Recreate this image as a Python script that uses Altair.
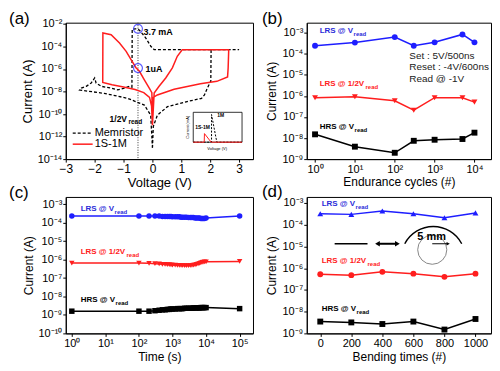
import altair as alt
import pandas as pd

FONT = "Liberation Sans"
BLUE = "#1e1eff"
RED = "#ff1e1e"
BLACK = "#000000"

# ---------------- (a) I-V sweeps ----------------
mem_v = [0.0, 0.03, 0.17, 0.52, 1.2, 1.7, 1.8, 1.9, 2.02, 2.03,
         3.0, 0.06, -0.05, -0.23, -0.4, -0.49, -0.6, -0.7, -0.71, -0.8,
         -0.97, -1.2, -1.43, -1.77, -1.95, -2.0, -2.12, -2.29, -2.46, -2.52,
         -1.67, -0.86, -0.28, -0.06, 0.0]
mem_i = [1e-13, 8e-12, 8e-11, 4.5e-10, 1.3e-9, 2.5e-9, 5e-9, 2e-8, 8.5e-8, 5.2e-5,
         5.2e-5, 5.2e-5, 1e-4, 5.6e-4, 2e-3, 3.5e-3, 3.7e-3, 3.4e-3, 2.5e-8, 2.9e-8,
         2e-8, 1.4e-8, 2e-8, 2.9e-8, 5.7e-8, 1.6e-7, 5.7e-8, 2.9e-8, 2e-8, 1.35e-8,
         6.9e-9, 2.5e-9, 6.3e-10, 8e-11, 1e-13]
s1m_v = [0.0, 0.03, 0.17, 0.75, 1.66, 2.23, 2.6, 2.62, 2.64, 1.03,
         0.86, 0.69, 0.46, 0.23, 0.06, 0.0, -0.02, -0.11, -0.28, -0.45,
         -0.57, -0.74, -0.91, -1.14, -1.43, -1.715, -1.72, -1.4, -1.0, -0.6,
         -0.3, -0.1, -0.03, 0.0]
s1m_i = [1e-11, 3e-9, 5e-9, 1.6e-8, 5e-8, 8e-8, 2e-7, 1.2e-6, 5.2e-5, 5.2e-5,
         1.35e-5, 1.26e-6, 1.6e-7, 2.9e-8, 7.4e-9, 1e-11, 8e-9, 2e-8, 1.1e-7, 6.3e-7,
         1.3e-6, 6.8e-6, 3.7e-5, 2e-4, 1.1e-3, 1.6e-3, 6.5e-8, 4e-8, 2.5e-8, 1.5e-8,
         8e-9, 3e-9, 5e-10, 1e-11]
marker_v = [-0.5, -0.5]
marker_i = [3.7e-3, 1.2e-6]
half_read_v = [-0.5]

# inset (linear, mA)
inset_mem_v = [-3.0, -0.75, -0.75, -0.1, 3.0]
inset_mem_i = [0.0, 0.0, 3.7, 0.0, 0.0]
inset_s1m_v = [-3.0, -1.65, -1.62, -0.8, 3.0]
inset_s1m_i = [0.0, 0.0, 1.15, 0.0, 0.0]

# ---------------- (b) endurance ----------------
cycles = [1, 10, 100, 300, 1000, 5000, 10000]
lrs_b = [2.4e-4, 3.4e-4, 6.2e-4, 2.4e-4, 3.5e-4, 8.3e-4, 3.5e-4]
half_b = [8.2e-7, 9.1e-7, 5.9e-7, 2.1e-7, 8.2e-7, 8.2e-7, 5.1e-7]
hrs_b = [1.5e-8, 3.9e-9, 2.0e-9, 7.4e-9, 8.3e-9, 9.0e-9, 1.8e-8]

# ---------------- (c) retention ----------------
time_c = [1, 100, 200, 300, 400, 500, 600, 700, 800, 900, 1000, 1200, 1400, 1600,
          1800, 2000, 2300, 2600, 3000, 3400, 3800, 4200, 4700, 5200, 5800, 6400,
          7000, 7600, 8200, 9000, 10000, 100000]
lrs_c = [2.3e-4, 2.3e-4, 2.3e-4, 2.3e-4, 2.3e-4, 2.2e-4, 2.2e-4, 2.2e-4, 2.2e-4, 2.2e-4,
         2.1e-4, 2.1e-4, 2.1e-4, 2.1e-4, 2.0e-4, 2.0e-4, 2.0e-4, 2.0e-4, 1.9e-4, 1.9e-4,
         1.9e-4, 1.9e-4, 1.8e-4, 1.8e-4, 1.8e-4, 1.8e-4, 1.7e-4, 1.7e-4, 1.7e-4, 1.7e-4,
         1.8e-4, 2.3e-4]
half_c = [6.5e-7, 6.5e-7, 6.3e-7, 6.0e-7, 5.8e-7, 5.6e-7, 5.5e-7, 5.4e-7, 5.3e-7, 5.2e-7,
          5.1e-7, 5.0e-7, 4.9e-7, 4.9e-7, 4.8e-7, 4.8e-7, 4.7e-7, 4.7e-7, 4.7e-7, 4.8e-7,
          4.9e-7, 5.0e-7, 5.2e-7, 5.5e-7, 5.8e-7, 6.2e-7, 6.6e-7, 7.0e-7, 7.3e-7, 7.5e-7,
          7.6e-7, 8.0e-7]
hrs_c = [1.6e-9, 1.6e-9, 1.6e-9, 1.7e-9, 1.8e-9, 1.9e-9, 1.9e-9, 2.0e-9, 2.0e-9, 2.1e-9,
         2.1e-9, 2.1e-9, 2.2e-9, 2.2e-9, 2.2e-9, 2.2e-9, 2.3e-9, 2.3e-9, 2.3e-9, 2.3e-9,
         2.3e-9, 2.4e-9, 2.4e-9, 2.4e-9, 2.4e-9, 2.4e-9, 2.5e-9, 2.5e-9, 2.5e-9, 2.5e-9,
         2.5e-9, 2.2e-9]

# ---------------- (d) bending ----------------
bend = [0, 200, 400, 600, 800, 1000]
lrs_d = [3.2e-4, 3.0e-4, 4.3e-4, 3.2e-4, 2.1e-4, 3.5e-4]
half_d = [5.3e-7, 4.8e-7, 6.8e-7, 5.6e-7, 4.0e-7, 5.6e-7]
hrs_d = [3.5e-9, 3.2e-9, 2.7e-9, 3.5e-9, 1.5e-9, 4.6e-9]

SUP = str.maketrans("-0123456789", "⁻⁰¹²³⁴⁵⁶⁷⁸⁹")


def pow_expr(exps):
    expr = "''"
    for e in exps:
        expr = (f"abs(log(datum.value)/LN10-({e}))<0.01 ? "
                f"'10{str(e).translate(SUP)}' : ({expr})")
    return expr


def log_axis(title, exps, lsize=11, tsize=12):
    return alt.Axis(title=title, values=[10.0 ** e for e in exps],
                    labelExpr=pow_expr(exps), labelFontSize=lsize,
                    titleFontSize=tsize, labelFlush=False, labelOverlap=False)


def label(text, x, y, size=9, color=BLACK, weight="bold", align="left",
          baseline="middle", angle=0):
    return alt.Chart(pd.DataFrame({"t": [text]})).mark_text(
        align=align, baseline=baseline, fontSize=size, fontWeight=weight,
        color=color, font=FONT, angle=angle
    ).encode(text="t:N", x=alt.value(x), y=alt.value(y))


def sub_label(main, sub, x, y, color, sub_dx, size=8):
    return [label(main, x, y, size=size, color=color),
            label(sub, x + sub_dx, y + 3, size=size - 2, color=color)]


def series(xs, ys, color, shape, xenc, yenc, size=35):
    df = pd.DataFrame({"x": xs, "y": ys})
    base = alt.Chart(df).encode(x=xenc, y=yenc)
    return [base.mark_line(color=color, strokeWidth=1.5),
            base.mark_point(shape=shape, filled=True, color=color, size=size,
                            opacity=1)]


# ================= panel (a) =================
xa = alt.X("V:Q", scale=alt.Scale(domain=[-3, 3.48], nice=False, zero=False),
           axis=alt.Axis(title="Voltage (V)", values=[-3, -2, -1, 0, 1, 2, 3],
                         format="d", labelFontSize=12, titleFontSize=13,
                         labelFlush=False, labelOverlap=False))
ya = alt.Y("I:Q", scale=alt.Scale(type="log", domain=[1e-14, 1.3e-2], nice=False),
           axis=log_axis("Current (A)", [-14, -12, -10, -8, -6, -4, -2],
                         lsize=11, tsize=13))

df_mem = pd.DataFrame({"V": mem_v, "I": mem_i, "k": list(range(len(mem_v)))})
df_s1m = pd.DataFrame({"V": s1m_v, "I": s1m_i, "k": list(range(len(s1m_v)))})

vline = alt.Chart(pd.DataFrame({"V": half_read_v})).mark_rule(
    color="#333333", strokeDash=[1, 1.5], strokeWidth=1).encode(x=xa)
mem_line = alt.Chart(df_mem).mark_line(
    color=BLACK, strokeDash=[3, 2], strokeWidth=1.3
).encode(x=xa, y=ya, order="k:Q")
s1m_line = alt.Chart(df_s1m).mark_line(color=RED, strokeWidth=1.5).encode(
    x=xa, y=ya, order="k:Q")
circles = alt.Chart(pd.DataFrame({"V": marker_v, "I": marker_i})).mark_point(
    shape="circle", filled=False, color=BLUE, size=80, strokeWidth=1.2
).encode(x=xa, y=ya)

dummy = pd.DataFrame({"a": [0]})
legend_a = [
    alt.Chart(dummy).mark_rule(color=BLACK, strokeDash=[3, 2], strokeWidth=1.3)
    .encode(x=alt.value(7), x2=alt.value(27), y=alt.value(111)),
    label("Memristor", 29, 111, size=11, weight="normal"),
    alt.Chart(dummy).mark_rule(color=RED, strokeWidth=1.5)
    .encode(x=alt.value(7), x2=alt.value(27), y=alt.value(122)),
    label("1S-1M", 29, 122, size=11, weight="normal"),
]

main_a = alt.layer(
    vline, mem_line, s1m_line, circles,
    label("3.7 mA", 78, 9), label("1uA", 80, 47),
    label("1/2V", 44, 97, size=8.5), label("read", 63, 100, size=6.5),
    *legend_a,
    label("(a)", -57, -12, size=17, weight="normal", baseline="top"),
)

xi_scale = alt.Scale(domain=[-3, 3], range=[128, 177], nice=False, zero=False)
yi_scale = alt.Scale(domain=[0, 4], range=[120, 90], nice=False, zero=False)
frame_i = alt.Chart(pd.DataFrame({"x": [-3], "x2": [3], "y": [0], "y2": [4]})).mark_rect(
    fill="white", stroke=BLACK, strokeWidth=0.8
).encode(x=alt.X("x:Q", scale=xi_scale, axis=None), x2="x2:Q",
         y=alt.Y("y:Q", scale=yi_scale, axis=None), y2="y2:Q")
inset_mem = alt.Chart(pd.DataFrame({"x": inset_mem_v, "y": inset_mem_i,
                                    "k": list(range(len(inset_mem_v)))})).mark_line(
    color=BLACK, strokeDash=[2, 1.5], strokeWidth=1).encode(x="x:Q", y="y:Q", order="k:Q")
inset_s1m = alt.Chart(pd.DataFrame({"x": inset_s1m_v, "y": inset_s1m_i,
                                    "k": list(range(len(inset_s1m_v)))})).mark_line(
    color=RED, strokeWidth=1).encode(x="x:Q", y="y:Q", order="k:Q")
inset_a = alt.layer(
    frame_i, inset_mem, inset_s1m,
    label("1S-1M", 130, 105, size=5),
    label("1M", 152, 93, size=5),
    label("Current (mA)", 123, 105, size=4, weight="normal", align="center", angle=270),
    label("Voltage (V)", 152, 127, size=4, weight="normal", align="center"),
)

panel_a = alt.layer(main_a, inset_a).resolve_scale(
    x="independent", y="independent").properties(width=188, height=137)

# ================= panel (b) =================
xb = alt.X("x:Q", scale=alt.Scale(type="log", domain=[0.62, 2.6e4], nice=False),
           axis=log_axis("Endurance cycles (#)", [0, 1, 2, 3, 4]))
yb = alt.Y("y:Q", scale=alt.Scale(type="log", domain=[1e-9, 3e-3], nice=False),
           axis=log_axis("Current (A)", [-9, -8, -7, -6, -5, -4, -3]))
panel_b = alt.layer(
    *series(cycles, lrs_b, BLUE, "circle", xb, yb),
    *series(cycles, half_b, RED, "triangle-down", xb, yb),
    *series(cycles, hrs_b, BLACK, "square", xb, yb),
    *sub_label("LRS @ V", "read", 13, 8, "#2b2bd9", 34),
    *sub_label("LRS @ 1/2V", "read", 13, 62, "#ff2020", 46),
    *sub_label("HRS @ V", "read", 13, 105, BLACK, 35),
    label("Set : 5V/500ns", 103, 33, size=10, weight="normal", color="#222222"),
    label("Reset : -4V/600ns", 103, 45, size=10, weight="normal", color="#222222"),
    label("Read @ -1V", 103, 57, size=10, weight="normal", color="#222222"),
    label("(b)", -45, -12, size=17, weight="normal", baseline="top"),
).properties(width=185, height=137)

# ================= panel (c) =================
xc = alt.X("x:Q", scale=alt.Scale(type="log", domain=[0.66, 2.5e5], nice=False),
           axis=log_axis("Time (s)", [0, 1, 2, 3, 4, 5]))
yc = alt.Y("y:Q", scale=alt.Scale(type="log", domain=[1e-10, 2.5e-3], nice=False),
           axis=log_axis("Current (A)", [-10, -9, -8, -7, -6, -5, -4, -3]))
panel_c = alt.layer(
    *series(time_c, lrs_c, BLUE, "circle", xc, yc, size=30),
    *series(time_c, half_c, RED, "triangle-down", xc, yc, size=30),
    *series(time_c, hrs_c, BLACK, "square", xc, yc, size=30),
    *sub_label("LRS @ V", "read", 15, 12, "#2b2bd9", 34),
    *sub_label("LRS @ 1/2V", "read", 15, 55, "#ff2020", 46),
    *sub_label("HRS @ V", "read", 15, 103, BLACK, 35),
    label("(c)", -57, -12, size=17, weight="normal", baseline="top"),
).properties(width=188, height=137)

# ================= panel (d) =================
xd = alt.X("x:Q", scale=alt.Scale(domain=[-87, 1100], nice=False, zero=False),
           axis=alt.Axis(title="Bending times (#)", values=[0, 200, 400, 600, 800, 1000],
                         format="d", labelFontSize=11, titleFontSize=12,
                         labelFlush=False, labelOverlap=False))
yd = alt.Y("y:Q", scale=alt.Scale(type="log", domain=[1e-9, 1.9e-3], nice=False),
           axis=log_axis("Current (A)", [-9, -8, -7, -6, -5, -4, -3]))
drawing = [
    alt.Chart(dummy).mark_rule(color=BLACK, strokeWidth=1.5)
    .encode(x=alt.value(28), x2=alt.value(61), y=alt.value(47)),
    alt.Chart(dummy).mark_rule(color=BLACK, strokeWidth=2)
    .encode(x=alt.value(72), x2=alt.value(90), y=alt.value(47)),
    alt.Chart(dummy).mark_point(shape="triangle-left", filled=True, color=BLACK,
                                size=30, opacity=1)
    .encode(x=alt.value(71), y=alt.value(47)),
    alt.Chart(dummy).mark_point(shape="triangle-right", filled=True, color=BLACK,
                                size=30, opacity=1)
    .encode(x=alt.value(91), y=alt.value(47)),
    alt.Chart(dummy).mark_point(shape="circle", filled=False, color="#555555",
                                size=855, strokeWidth=1)
    .encode(x=alt.value(126), y=alt.value(53)),
    alt.Chart(dummy).mark_arc(color=BLACK)
    .encode(x=alt.value(127), y=alt.value(62), theta=alt.value(5.196),
            theta2=alt.value(7.370), radius=alt.value(33), radius2=alt.value(31.6)),
    alt.Chart(dummy).mark_rule(color=BLACK, strokeWidth=1)
    .encode(x=alt.value(126), x2=alt.value(141), y=alt.value(47)),
    alt.Chart(dummy).mark_point(shape="triangle-right", filled=True, color=BLACK,
                                size=14, opacity=1)
    .encode(x=alt.value(142), y=alt.value(47)),
    label("5 mm", 111, 40, size=11),
]
panel_d = alt.layer(
    *series(bend, lrs_d, BLUE, "triangle-up", xd, yd),
    *series(bend, half_d, RED, "circle", xd, yd),
    *series(bend, hrs_d, BLACK, "square", xd, yd),
    *sub_label("LRS @ V", "read", 15, 7, "#2b2bd9", 34),
    *sub_label("LRS @ 1/2V", "read", 15, 64, "#ff2020", 46),
    *sub_label("HRS @ V", "read", 15, 113, BLACK, 35),
    *drawing,
    label("(d)", -45, -13, size=17, weight="normal", baseline="top"),
).properties(width=185, height=137)

chart = alt.concat(
    panel_a, panel_b, panel_c, panel_d,
    columns=2, spacing={"row": 38, "column": 54}, bounds="flush", padding=0,
).configure_view(
    stroke=BLACK, strokeWidth=1
).configure_axis(
    labelFont=FONT, titleFont=FONT, labelColor=BLACK, titleColor=BLACK,
    domainColor=BLACK, tickColor=BLACK, grid=False, tickSize=3, labelPadding=1,
    titleFontWeight="normal", titlePadding=3,
)

chart.save("out.html", embed_options={"renderer": "svg", "actions": False})
